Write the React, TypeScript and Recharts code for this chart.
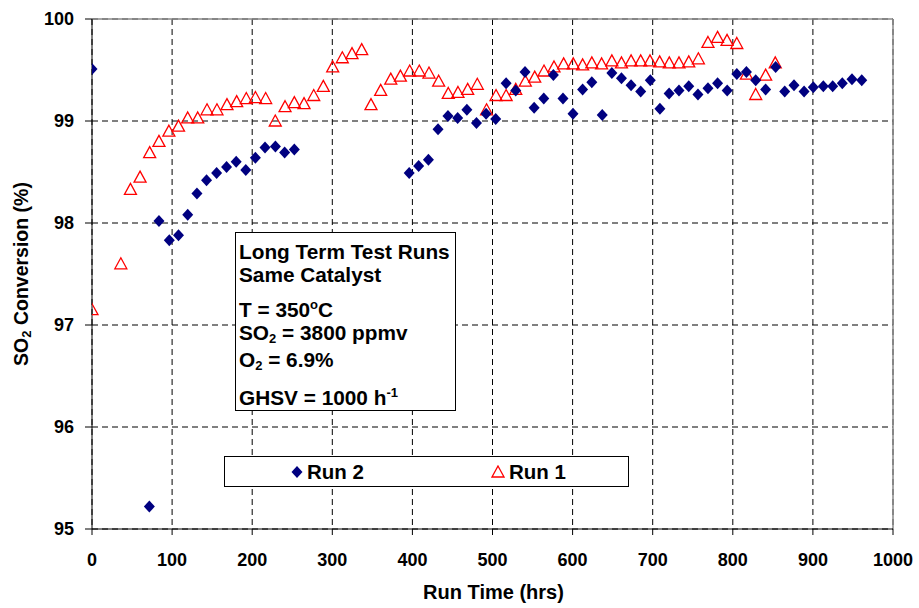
import React from 'react';
import { ScatterChart, Scatter, XAxis, YAxis, CartesianGrid, ReferenceLine } from 'recharts';

// Run 2 (diamonds)
const run2Hours = [0, 71.6, 83.6, 96.5, 108, 119.5, 131, 143, 155.6, 168, 180, 192, 204, 216, 229, 240.5, 252.6,
    396, 407.8, 420, 432, 444.4, 456.5, 468, 480, 492, 504, 517, 529, 540.6, 552, 564, 576, 588, 600.5, 612.5, 624,
    637, 649, 661, 673, 685, 697, 709, 720.5, 732.8, 745, 756.5, 769, 781, 793, 805, 817, 828.6, 841, 853.5, 864.8,
    876.4, 889, 900.5, 913, 924.7, 936.7, 948.8, 961];
const run2Conv = [99.51, 95.22, 98.02, 97.83, 97.88, 98.08, 98.29, 98.42, 98.49, 98.55, 98.6, 98.52, 98.64, 98.74,
    98.75, 98.69, 98.72,
    98.49, 98.56, 98.62, 98.92, 99.05, 99.03, 99.11, 98.98, 99.07, 99.02, 99.37, 99.3, 99.48, 99.13, 99.22, 99.45,
    99.22, 99.07, 99.31, 99.38, 99.06, 99.47, 99.42, 99.35, 99.29, 99.4, 99.12, 99.27, 99.3, 99.34, 99.26, 99.32,
    99.37, 99.3, 99.46, 99.48, 99.4, 99.31, 99.53, 99.29, 99.35, 99.29, 99.33, 99.34, 99.34, 99.37, 99.41, 99.4];

// Run 1 (triangles)
const run1Hours = [0, 36, 48, 60, 72, 83.6, 96, 108, 119.5, 132, 143.6, 156, 168.5, 180.6, 192.6, 204, 216.8, 228.8,
    241, 252.6, 264.7, 276.8, 288.8, 300.5, 312.5, 324.6, 336.7, 348.3, 360.4, 373, 385, 396.6, 408.6, 420.7, 432.8,
    444.8, 456.9, 469, 481, 492.6, 504.4, 517, 529, 541, 552.7, 564.3, 576.8, 588.8, 600.8, 612.5, 624, 636.2, 649,
    661, 673, 685, 696.6, 708.7, 720.7, 732.8, 745, 757, 769, 781, 792.8, 805, 817, 828.6, 841, 853];
const run1Conv = [97.15, 97.6, 98.33, 98.45, 98.69, 98.8, 98.9, 98.95, 99.03, 99.03, 99.11, 99.11, 99.16, 99.19,
    99.22, 99.23, 99.22, 99.0, 99.14, 99.18, 99.17, 99.25, 99.34, 99.53, 99.62, 99.66, 99.7, 99.16, 99.3, 99.41,
    99.44, 99.49, 99.49, 99.47, 99.39, 99.27, 99.28, 99.31, 99.36, 99.11, 99.25, 99.25, 99.31, 99.39, 99.43, 99.49,
    99.53, 99.56, 99.56, 99.55, 99.57, 99.56, 99.59, 99.57, 99.59, 99.59, 99.59, 99.58, 99.57, 99.57, 99.58, 99.61,
    99.77, 99.82, 99.79, 99.76, 99.46, 99.26, 99.45, 99.57];

const xTicks = [0, 100, 200, 300, 400, 500, 600, 700, 800, 900, 1000];
const yTicks = [95, 96, 97, 98, 99, 100];

const run2 = run2Hours.map((x, i) => ({ x, y: run2Conv[i] }));
const run1 = run1Hours.map((x, i) => ({ x, y: run1Conv[i] }));

const NAVY = '#000080';
const RED = '#ff0000';
const FONT = '"Liberation Sans", Arial, sans-serif';

const Diamond = (props: any) => {
    const { cx, cy } = props;
    return <polygon points={`${cx},${cy - 6} ${cx + 5.5},${cy} ${cx},${cy + 6} ${cx - 5.5},${cy}`} fill={NAVY} />;
};

const Triangle = (props: any) => {
    const { cx, cy } = props;
    return (
        <polygon
            points={`${cx},${cy - 6} ${cx + 6},${cy + 5} ${cx - 6},${cy + 5}`}
            fill="none"
            stroke={RED}
            strokeWidth={1.3}
        />
    );
};

const tickStyle = { fill: '#000', fontSize: 18, fontWeight: 700, fontFamily: FONT };
const sub = { fontSize: 13, verticalAlign: -3 };
const sup = { fontSize: 13, verticalAlign: 8 };

const App: React.FC = () => {
    return (
        <div style={{ position: 'absolute', left: 0, top: 0, width: 919, height: 608, background: '#fff', fontFamily: FONT }}>
            <ScatterChart width={919} height={608} margin={{ top: 19, right: 26, bottom: 29, left: 32 }}>
                <CartesianGrid strokeDasharray="6 4" stroke="#000" strokeWidth={1} />
                <ReferenceLine y={100} stroke="#888" strokeWidth={1.5} />
                <ReferenceLine x={1000} stroke="#888" strokeWidth={1.5} />
                <XAxis
                    type="number"
                    dataKey="x"
                    domain={[0, 1000]}
                    ticks={xTicks}
                    height={50}
                    tickSize={6}
                    tickMargin={18}
                    axisLine={{ stroke: '#000' }}
                    tickLine={{ stroke: '#000' }}
                    tick={tickStyle}
                    interval={0}
                    allowDataOverflow
                />
                <YAxis
                    type="number"
                    dataKey="y"
                    domain={[95, 100]}
                    ticks={yTicks}
                    width={60}
                    tickSize={7}
                    tickMargin={11}
                    axisLine={{ stroke: '#000' }}
                    tickLine={{ stroke: '#000' }}
                    tick={tickStyle}
                    interval={0}
                    allowDataOverflow
                />
                <Scatter name="Run 1" data={run1} shape={Triangle} isAnimationActive={false} />
                <Scatter name="Run 2" data={run2} shape={Diamond} isAnimationActive={false} />
            </ScatterChart>

            {/* axis titles */}
            <div style={{ position: 'absolute', left: 0, width: 987, top: 581, textAlign: 'center', fontSize: 20, fontWeight: 700 }}>
                Run Time (hrs)
            </div>
            <div
                style={{
                    position: 'absolute', left: 22, top: 274, transform: 'translate(-50%, -50%) rotate(-90deg)',
                    whiteSpace: 'nowrap', fontSize: 19.5, fontWeight: 700,
                }}
            >
                SO<sub style={sub}>2</sub> Conversion (%)
            </div>

            {/* conditions box */}
            <div
                style={{
                    position: 'absolute', left: 235, top: 232, width: 221, height: 179, border: '1px solid #000',
                    background: '#fff', fontSize: 20.8, fontWeight: 700, boxSizing: 'border-box',
                }}
            >
                {[
                    { t: 'Long Term Test Runs', y: 251.7 },
                    { t: 'Same Catalyst', y: 275 },
                    { t: <>T = 350<sup style={sup}>o</sup>C</>, y: 305 },
                    { t: <>SO<sub style={sub}>2</sub> = 3800 ppmv</>, y: 333 },
                    { t: <>O<sub style={sub}>2</sub> = 6.9%</>, y: 360 },
                    { t: <>GHSV = 1000 h<sup style={sup}>-1</sup></>, y: 393 },
                ].map((l, i) => (
                    <div key={i} style={{ position: 'absolute', left: 3, top: l.y - 232 - 13, lineHeight: '24px', whiteSpace: 'nowrap' }}>
                        {l.t}
                    </div>
                ))}
            </div>

            {/* legend */}
            <div
                style={{
                    position: 'absolute', left: 224, top: 456, width: 405, height: 31, border: '1px solid #000',
                    background: '#fff', boxSizing: 'border-box', fontSize: 20.5, fontWeight: 700,
                }}
            >
                <svg width={14} height={14} style={{ position: 'absolute', left: 65, top: 8 }}>
                    <polygon points="7,1 12.5,7 7,13 1.5,7" fill={NAVY} />
                </svg>
                <span style={{ position: 'absolute', left: 82, top: 3, lineHeight: '24px' }}>Run 2</span>
                <svg width={14} height={14} style={{ position: 'absolute', left: 266, top: 8 }}>
                    <polygon points="7,1 13,12 1,12" fill="none" stroke={RED} strokeWidth={1.3} />
                </svg>
                <span style={{ position: 'absolute', left: 284, top: 3, lineHeight: '24px' }}>Run 1</span>
            </div>
        </div>
    );
};

export default App;
